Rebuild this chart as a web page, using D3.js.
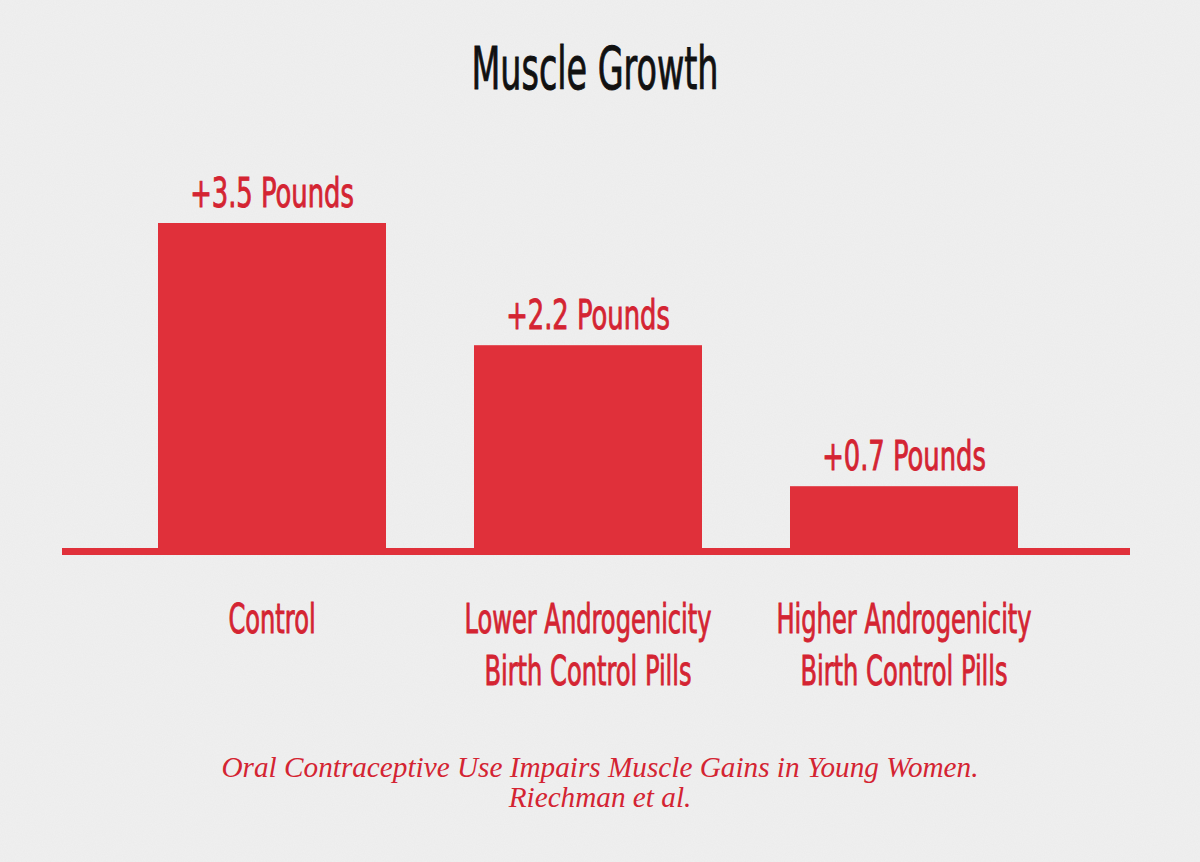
<!DOCTYPE html>
<html>
<head>
<meta charset="utf-8">
<script src="https://cdn.jsdelivr.net/npm/d3@7"></script>
<style>
  body { margin: 0; background: #efefef; }
  svg { display: block; }
</style>
</head>
<body>
<div id="chart"></div>
<script>
// chart data
const groups = ["Control", "Lower Androgenicity", "Higher Androgenicity"];
const groupLines = [["Control"], ["Lower Androgenicity", "Birth Control Pills"], ["Higher Androgenicity", "Birth Control Pills"]];
const gains = [3.5, 2.2, 0.7];
const valueLabels = ["+3.5 Pounds", "+2.2 Pounds", "+0.7 Pounds"];
const sourceLines = ["Oral Contraceptive Use Impairs Muscle Gains in Young Women.", "Riechman et al."];

const width = 1200, height = 862;
const barRed = "#e0303a", textRed = "#d42432";
const narrow = "'Liberation Sans Narrow', 'DejaVu Sans Condensed', sans-serif";

const svg = d3.select("#chart")
  .append("svg")
  .attr("width", width)
  .attr("height", height);

// paper-like background with a faint grain
const grain = svg.append("defs")
  .append("filter")
  .attr("id", "grain")
  .attr("x", 0).attr("y", 0).attr("width", "100%").attr("height", "100%");
grain.append("feTurbulence")
  .attr("type", "fractalNoise")
  .attr("baseFrequency", 0.9)
  .attr("numOctaves", 2)
  .attr("seed", 3);
grain.append("feColorMatrix")
  .attr("values", "0 0 0 0 0.5  0 0 0 0 0.5  0 0 0 0 0.5  0 0 0 0.09 0");

svg.append("rect")
  .attr("width", width)
  .attr("height", height)
  .attr("fill", "#f0f0f0");
svg.append("rect")
  .attr("width", width)
  .attr("height", height)
  .attr("filter", "url(#grain)");

const x = d3.scaleBand()
  .domain(groups)
  .range([70, 1106])
  .padding(0.2785);

const y = d3.scaleLinear()
  .domain([0, 3.5])
  .range([552, 223]);

// condensed text helper (the original face is a very narrow one)
function squeezedText(g, tx, ty, str, size, color, squeeze) {
  return g.append("text")
    .attr("transform", `translate(${tx},${ty}) scale(${squeeze},1)`)
    .attr("text-anchor", "middle")
    .attr("font-family", narrow)
    .attr("font-size", size)
    .attr("fill", color)
    .attr("stroke", color)
    .attr("stroke-width", 0.9)
    .text(str);
}

// title
squeezedText(svg, 595, 89, "Muscle Growth", 58, "#111", 0.64);

// bars
svg.selectAll(".bar")
  .data(gains)
  .enter()
  .append("rect")
  .attr("class", "bar")
  .attr("x", (d, i) => x(groups[i]))
  .attr("y", (d) => y(d))
  .attr("width", x.bandwidth())
  .attr("height", (d) => y(0) - y(d) + 3)
  .attr("fill", barRed);

// baseline
svg.append("rect")
  .attr("x", 62)
  .attr("y", y(0) - 4)
  .attr("width", 1130 - 62)
  .attr("height", 7)
  .attr("fill", barRed);

// value labels
gains.forEach(function (d, i) {
  squeezedText(svg, x(groups[i]) + x.bandwidth() / 2, y(d) - 16, valueLabels[i], 41, textRed, 0.7);
});

// category labels
groupLines.forEach(function (lines, i) {
  lines.forEach(function (line, j) {
    squeezedText(svg, x(groups[i]) + x.bandwidth() / 2, 633 + j * 52, line, 41, textRed, 0.655);
  });
});

// source note
sourceLines.forEach(function (line, j) {
  svg.append("text")
    .attr("transform", `translate(600,${777 + j * 30}) scale(0.975,1)`)
    .attr("text-anchor", "middle")
    .attr("font-family", "'Liberation Serif', 'DejaVu Serif', serif")
    .attr("font-style", "italic")
    .attr("font-size", 30)
    .attr("fill", textRed)
    .text(line);
});
</script>
</body>
</html>
